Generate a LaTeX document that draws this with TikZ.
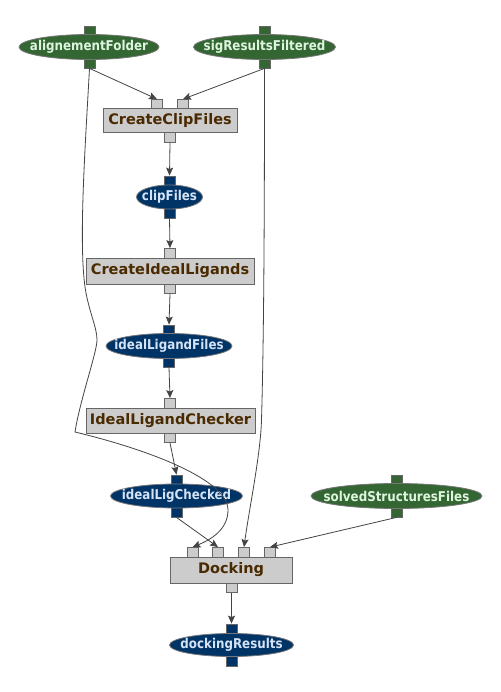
\documentclass[tikz,border=0pt]{standalone}
\usepackage{fontspec}
\setmainfont{DejaVu Sans}
\newfontfamily\dataface[FakeStretch=0.88]{DejaVu Sans}
\usetikzlibrary{arrows.meta,shapes.geometric}
\definecolor{gfill}{HTML}{336633}
\definecolor{bfill}{HTML}{003366}
\definecolor{gtext}{HTML}{DDF5DD}
\definecolor{btext}{HTML}{D5E3F7}
\definecolor{boxfill}{HTML}{CCCCCC}
\definecolor{boxedge}{HTML}{666666}
\definecolor{boxtext}{HTML}{4A2A00}
\definecolor{edgec}{HTML}{777777}
\definecolor{arrowc}{HTML}{444444}
\newcommand{\datafont}{\dataface\fontsize{13.5}{15}\selectfont\bfseries}
\newcommand{\procfont}{\fontsize{14.5}{16}\selectfont\bfseries}
\newcommand{\dtxt}[1]{\makebox[0pt][c]{#1}}
\begin{document}
\begin{tikzpicture}[x=1pt,y=-1pt,
  dataG/.style={ellipse,fill=gfill,draw=edgec,line width=0.8pt,text=gtext,font=\datafont,inner sep=0pt,minimum height=25pt},
  dataB/.style={ellipse,fill=bfill,draw=edgec,line width=0.8pt,text=btext,font=\datafont,inner sep=0pt,minimum height=24pt},
  proc/.style={rectangle,fill=boxfill,draw=boxedge,line width=1pt,text=boxtext,font=\procfont,inner sep=0pt,minimum height=25pt},
  portG/.style={rectangle,fill=gfill,draw=boxedge,line width=0.8pt,minimum width=11pt,minimum height=10pt,inner sep=0pt},
  portB/.style={rectangle,fill=bfill,draw=boxedge,line width=0.8pt,minimum width=11pt,minimum height=10pt,inner sep=0pt},
  portP/.style={rectangle,fill=boxfill,draw=boxedge,line width=0.8pt,minimum width=11pt,minimum height=10pt,inner sep=0pt},
  flow/.style={draw=arrowc,line width=0.8pt,-{Stealth[length=8pt,width=7pt,inset=1.5pt]}}
]
\useasboundingbox[fill=white] (0,0) rectangle (500,692);

% ports of data nodes
\node[portG] (af-t) at (89.5,31) {};
\node[portG] (af-b) at (89.5,63) {};
\node[portG] (srf-t) at (264.5,31) {};
\node[portG] (srf-b) at (264.5,63) {};
\node[portB] (clip-t) at (169.5,181) {};
\node[portB] (clip-b) at (169.5,213) {};
\node[portB] (ilf-t) at (169,330) {};
\node[portB] (ilf-b) at (169,362) {};
\node[portB] (ilc-t) at (176.5,480) {};
\node[portB] (ilc-b) at (176.5,512) {};
\node[portG] (ssf-t) at (396.5,480) {};
\node[portG] (ssf-b) at (396.5,512) {};
\node[portB] (dr-t) at (231.5,629) {};
\node[portB] (dr-b) at (231.5,661) {};

% ports of processes
\node[portP] (ccf-i1) at (157,104.5) {};
\node[portP] (ccf-i2) at (183,104.5) {};
\node[portP] (ccf-o) at (170,137.5) {};
\node[portP] (cil-i) at (170,253.5) {};
\node[portP] (cil-o) at (170,288.5) {};
\node[portP] (ich-i) at (170,403.5) {};
\node[portP] (ich-o) at (170,437.5) {};
\node[portP] (dock-i1) at (192.5,552.5) {};
\node[portP] (dock-i2) at (218,552.5) {};
\node[portP] (dock-i3) at (244,552.5) {};
\node[portP] (dock-i4) at (270,552.5) {};
\node[portP] (dock-o) at (231.5,587.5) {};

% data nodes
\node[dataG,minimum width=140pt] (af) at (89,47) {\dtxt{alignementFolder}};
\node[dataG,minimum width=142pt] (srf) at (264.5,47) {\dtxt{sigResultsFiltered}};
\node[dataB,minimum width=66pt] (clip) at (169.5,197) {\dtxt{clipFiles}};
\node[dataB,minimum width=126pt,minimum height=25pt] (ilf) at (169,346) {\dtxt{idealLigandFiles}};
\node[dataB,minimum width=132pt] (ilc) at (176.5,496) {\dtxt{idealLigChecked}};
\node[dataG,minimum width=171pt] (ssf) at (396.5,496) {\dtxt{solvedStructuresFiles}};
\node[dataB,minimum width=124pt,minimum height=23pt] (dr) at (231.5,645) {\dtxt{dockingResults}};

% processes
\node[proc,minimum width=134pt,minimum height=24pt] (ccf) at (170,121) {CreateClipFiles};
\node[proc,minimum width=168pt,minimum height=26pt] (cil) at (170,271) {CreateIdealLigands};
\node[proc,minimum width=169pt] (ich) at (170.5,420.5) {IdealLigandChecker};
\node[proc,minimum width=122pt,minimum height=26pt] (dock) at (231,570) {Docking};

% connectors
\draw[flow] (af-b.south) -- (ccf-i1.north);
\draw[flow] (srf-b.south) -- (ccf-i2.north);
\draw[flow] (ccf-o.south) -- (clip-t.north);
\draw[flow] (clip-b.south) -- (cil-i.north);
\draw[flow] (cil-o.south) -- (ilf-t.north);
\draw[flow] (ilf-b.south) -- (ich-i.north);
\draw[flow] (ich-o.south) -- (ilc-t.north);
\draw[flow] (ilc-b.south) -- (dock-i2.north);
\draw[flow] (ssf-b.south) -- (dock-i4.north);
\draw[flow] (dock-o.south) -- (dr-t.north);
\draw[flow] (srf-b.south) .. controls (264.5,250) and (263.5,350) .. (261.5,420)
  .. controls (260.5,455) and (249,510) .. (dock-i3.north);
\draw[flow] (af-b.south) .. controls (85,150) and (78,250) .. (86,293)
  .. controls (90,314) and (97,328) .. (97,340)
  .. controls (97,352) and (80,400) .. (75,432)
  .. controls (150,450) and (228,480) .. (228,510)
  .. controls (228,530) and (210,540) .. (dock-i1.north);
\end{tikzpicture}
\end{document}
